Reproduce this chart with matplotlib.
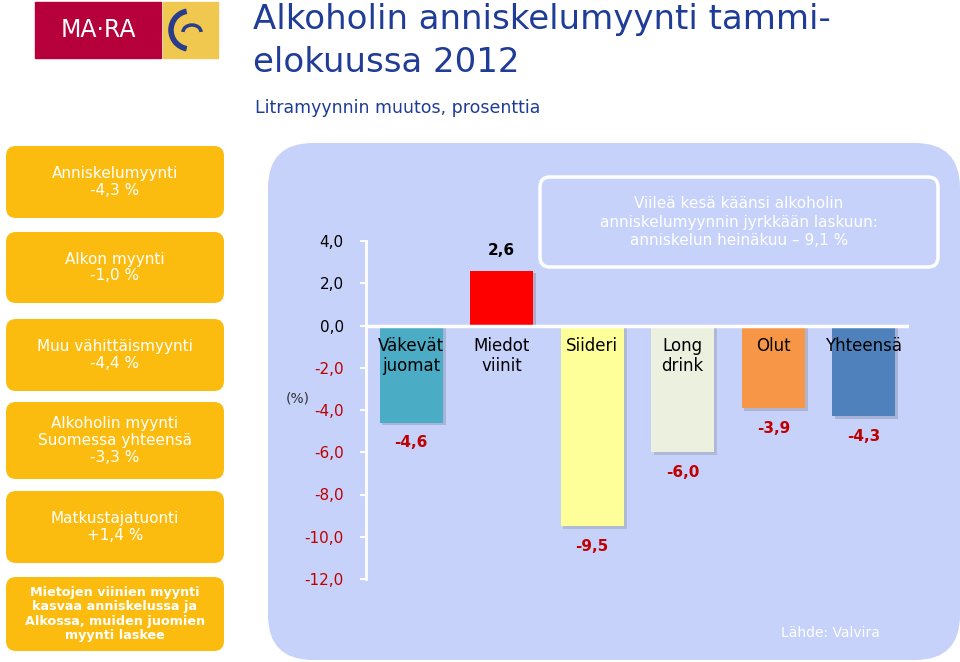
import matplotlib
matplotlib.use("Agg")
import matplotlib.pyplot as plt
from matplotlib.patches import FancyBboxPatch, Rectangle, Arc
import matplotlib.patheffects as pe

categories = ["Väkevät\njuomat", "Miedot\nviinit", "Siideri", "Long\ndrink", "Olut", "Yhteensä"]
values = [-4.6, 2.6, -9.5, -6.0, -3.9, -4.3]
value_labels = ["-4,6", "2,6", "-9,5", "-6,0", "-3,9", "-4,3"]
bar_colors = ["#4bacc6", "#ff0000", "#ffff99", "#ebf1de", "#f79646", "#4f81bd"]
yticks = [4, 2, 0, -2, -4, -6, -8, -10, -12]
ytick_labels = ["4,0", "2,0", "0,0", "-2,0", "-4,0", "-6,0", "-8,0", "-10,0", "-12,0"]
side_texts = ["Anniskelumyynti\n-4,3 %", "Alkon myynti\n-1,0 %", "Muu vähittäismyynti\n-4,4 %",
              "Alkoholin myynti\nSuomessa yhteensä\n-3,3 %", "Matkustajatuonti\n+1,4 %",
              "Mietojen viinien myynti\nkasvaa anniskelussa ja\nAlkossa, muiden juomien\nmyynti laskee"]

W, H = 960, 662
fig = plt.figure(figsize=(9.6, 6.62), dpi=100)
bg = fig.add_axes([0, 0, 1, 1])
bg.set_xlim(0, W); bg.set_ylim(H, 0); bg.axis("off")

# logo
bg.add_patch(Rectangle((35, 2), 126, 56, color="#b5003c"))
bg.text(98, 30, "MA·RA", color="white", fontsize=17, ha="center", va="center", family="DejaVu Sans")
bg.add_patch(Rectangle((163, 2), 55, 56, color="#f0c850"))
bg.add_patch(Arc((190, 30), 38, 38, theta1=100, theta2=260, color="#2a3c8c", lw=4))
bg.add_patch(Arc((192, 32), 18, 14, theta1=180, theta2=360, color="#2a3c8c", lw=2.5))

# title
bg.text(253, 20, "Alkoholin anniskelumyynti tammi-", color="#1f3c96", fontsize=24.5,
        ha="left", va="center", family="DejaVu Sans")
bg.text(253, 62, "elokuussa 2012", color="#1f3c96", fontsize=24.5,
        ha="left", va="center", family="DejaVu Sans")
bg.text(255, 108, "Litramyynnin muutos, prosenttia", color="#1f3c96", fontsize=12.5, ha="left", va="center")

# side boxes
boxes = [(142, 222), (228, 307), (315, 395), (398, 483), (487, 567), (573, 655)]
for (y0, y1), t in zip(boxes, side_texts):
    bg.add_patch(FancyBboxPatch((6, y0 + 4), 218, y1 - y0 - 8, boxstyle="round,pad=0,rounding_size=10",
                                color="#fbbc0f", lw=0))
    fs = 9.2 if t.startswith("Mietojen") else 11
    bg.text(115, (y0 + y1) / 2, t, color="white", fontsize=fs, ha="center", va="center",
            linespacing=1.15, fontweight="bold" if fs < 10 else "normal")

# blue panel
bg.add_patch(FancyBboxPatch((268, 143), 692, 517, boxstyle="round,pad=0,rounding_size=45",
                            color="#c6d2fa", lw=0))
bg.add_patch(FancyBboxPatch((540, 177), 398, 90, boxstyle="round,pad=0,rounding_size=10",
                            fc="none", ec="white", lw=2.5))
bg.text(739, 222, "Viileä kesä käänsi alkoholin\nanniskelumyynnin jyrkkään laskuun:\nanniskelun heinäkuu – 9,1 %",
        color="white", fontsize=11, ha="center", va="center", linespacing=1.3)
bg.text(830, 633, "Lähde: Valvira", color="white", fontsize=10, ha="center", va="center")
bg.text(298, 398, "(%)", color="#333333", fontsize=10, ha="center", va="center")

# chart
ax = fig.add_axes([366 / W, 1 - 579 / H, (909 - 366) / W, (579 - 241) / H])
ax.patch.set_alpha(0)
x = list(range(len(categories)))
bars = ax.bar(x, values, width=0.7, color=bar_colors, zorder=2)
for b in bars:
    b.set_path_effects([pe.SimplePatchShadow(offset=(2, -2), alpha=0.18), pe.Normal()])
ax.set_xlim(-0.5, 5.5)
ax.set_ylim(-12, 4)
ax.set_yticks(yticks)
ax.set_yticklabels(ytick_labels)
for s in ["top", "right", "bottom"]:
    ax.spines[s].set_visible(False)
ax.spines["left"].set_color("white"); ax.spines["left"].set_linewidth(2)
ax.spines["left"].set_bounds(-12, 4)
ax.axhline(0, color="white", lw=2.5, zorder=3)
ax.set_xticks([])
ax.tick_params(axis="y", colors="white", length=4, width=1.5, pad=12, labelsize=11)
for lab, v in zip(ax.get_yticklabels(), yticks):
    lab.set_color("#c00000" if v < 0 else "black")
for i, v in enumerate(values):
    ax.text(i, -0.55, categories[i], ha="center", va="top", fontsize=12, color="black",
            linespacing=1.1, zorder=4)
    if v >= 0:
        ax.text(i, v + 0.6, value_labels[i], ha="center", va="bottom", fontsize=11, fontweight="bold", color="black")
    else:
        ax.text(i, v - 0.6, value_labels[i], ha="center", va="top", fontsize=11, fontweight="bold", color="#c00000")

fig.savefig("out.png", dpi=100)
